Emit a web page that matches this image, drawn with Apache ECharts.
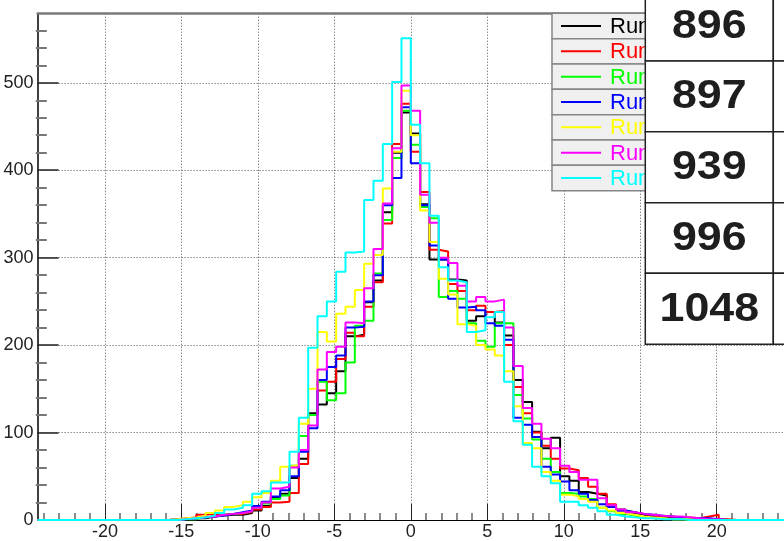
<!DOCTYPE html>
<html>
<head>
<meta charset="utf-8">
<script src="https://cdn.jsdelivr.net/npm/echarts@6/dist/echarts.min.js"></script>
<style>
  html, body { margin: 0; padding: 0; background: #ffffff; }
  #chart { width: 784px; height: 541px; }
</style>
</head>
<body>
<div id="chart"></div>
<script>
// Histogram binning: 80 bins of width 0.61 spanning [-24.4, 24.4]
const binLow = -24.4;
const binWidth = 0.61;

// Bin contents per run (bin 0 .. bin 79)
const runBlack = [0,0,0,0,0,0,0,0,0,0,0,0,0,0,
  0,1,2,2,4,5,6,6,8,11,16,26,30,48,70,122,132,145,170,210,212,249,274,352,420,466,
  442,361,298,298,275,274,228,233,238,226,211,160,135,101,82,94,50,45,32,30,28,15,12,8,6,4,3,3,2,2,1,1,0,0,
  0,0,0,0,0,0];
const runRed = [0,0,0,0,0,0,0,0,0,0,0,0,0,0,
  1,2,3,6,7,6,7,7,9,12,15,20,21,31,64,120,148,158,184,214,210,244,272,339,430,476,
  421,375,309,307,270,262,240,245,238,239,200,152,122,100,85,70,59,57,48,38,30,18,11,9,7,5,4,4,3,3,2,4,6,1,
  0,0,0,0,0,0];
const runGreen = [0,0,0,0,0,0,0,0,0,0,0,0,0,0,
  0,1,1,3,4,6,7,8,10,14,19,24,28,62,96,120,158,137,145,180,222,228,282,343,414,468,
  429,358,345,255,262,253,225,205,198,225,225,143,116,92,70,55,31,30,27,24,14,10,7,5,3,2,2,1,1,0,0,0,0,0,
  0,0,0,0,0,0];
const runBlue = [0,0,0,0,0,0,0,0,0,0,0,0,0,0,
  1,1,2,3,4,5,7,9,11,16,21,27,34,50,78,105,160,175,188,220,221,250,280,360,391,472,
  408,360,314,298,253,243,244,240,225,222,206,117,109,95,61,52,44,34,30,23,18,15,11,9,7,6,5,4,3,2,2,2,1,0,
  0,0,0,0,0,0];
const runYellow = [0,0,0,0,0,0,0,0,0,0,0,0,0,0,
  1,2,3,5,8,11,15,17,21,26,31,45,61,63,110,150,215,204,236,244,263,293,303,379,421,491,
  440,354,318,276,258,224,222,200,195,188,170,130,88,82,55,45,29,27,24,21,14,11,8,6,4,3,2,1,1,1,0,0,0,0,
  0,0,0,0,0,0];
const runMagenta = [0,0,0,0,0,0,0,0,0,0,0,0,0,0,
  0,1,2,3,4,6,7,8,10,14,20,36,38,60,80,108,172,192,198,226,225,265,310,362,425,497,
  468,372,340,300,294,268,250,255,250,252,220,176,128,110,93,82,62,55,46,46,25,17,12,9,7,6,5,4,4,3,2,1,1,0,
  0,0,0,0,0,0];
const runCyan = [0,0,0,0,0,0,0,0,0,0,0,0,0,0,
  0,1,2,3,5,8,12,14,17,30,33,43,43,78,117,197,233,250,284,306,307,366,388,430,501,551,
  452,408,348,289,274,272,215,217,232,238,158,113,86,61,50,42,21,21,17,14,10,6,4,3,2,2,1,1,1,0,0,0,0,0,
  0,0,0,0,0,0];

const runColors = ['#000000', '#ff0000', '#00ff00', '#0000ff', '#ffff00', '#ff00ff', '#00ffff'];
const runValues = [runBlack, runRed, runGreen, runBlue, runYellow, runMagenta, runCyan];

// Axis ticks
const xMajorTicks = [-20, -15, -10, -5, 0, 5, 10, 15, 20];
const xMinorTicks = [-24,-23,-22,-21,-19,-18,-17,-16,-14,-13,-12,-11,-9,-8,-7,-6,-4,-3,-2,-1,
  1,2,3,4,6,7,8,9,11,12,13,14,16,17,18,19,21,22,23,24];
const yMajorTicks = [0, 100, 200, 300, 400, 500];
const yMinorTicks = [20,40,60,80,120,140,160,180,220,240,260,280,320,340,360,380,420,440,460,480,520,540,560];
const yMax = 579;

// Run numbers listed in the side table
const runNumbers = ['896', '897', '939', '996', '1048'];
const legendLabel = 'Run';

// Plot frame geometry (pixels)
const plotLeft = 37.6, plotTop = 13.7, plotWidth = 748.2, plotHeight = 506.3;
const sansFamily = 'Liberation Sans';

// Turn bin contents into step-line points at bin edges
function stepPoints(values) {
  const pts = values.map((v, i) => [binLow + i * binWidth, v]);
  pts.push([binLow + values.length * binWidth, values[values.length - 1]]);
  return pts;
}

const chart = echarts.init(document.getElementById('chart'), null, { renderer: 'canvas' });

const labelFont = { fontSize: 18, color: '#222222', fontFamily: sansFamily };
const dotted = { type: [1, 2], color: '#555555', width: 1 };

// Legend box (partly hidden under the run-number table)
const legendTop = 13.3, legendRowH = 25.34, legendLeft = 552;
const graphics = [];
runColors.forEach((c, i) => {
  const y0 = legendTop + i * legendRowH;
  graphics.push({
    type: 'rect', z: 100,
    shape: { x: legendLeft, y: y0, width: 120, height: legendRowH },
    style: { fill: '#f0f0f0', stroke: '#858585', lineWidth: 1.5 }
  });
  graphics.push({
    type: 'line', z: 101,
    shape: { x1: 561, y1: y0 + legendRowH / 2, x2: 601, y2: y0 + legendRowH / 2 },
    style: { stroke: c, lineWidth: 2 }
  });
  graphics.push({
    type: 'text', z: 101, x: 610, y: y0 + legendRowH / 2 + 1,
    style: { text: legendLabel, fill: c, fontSize: 22, fontFamily: sansFamily,
             textAlign: 'left', textVerticalAlign: 'middle' }
  });
});

// Run-number table
const tableRows = [-10, 61, 131.7, 202.7, 273.3, 344.3];
const colLeft = 645.3, colRight = 773.3;
runNumbers.forEach((num, i) => {
  const y0 = tableRows[i], y1 = tableRows[i + 1];
  graphics.push({
    type: 'rect', z: 200,
    shape: { x: colLeft, y: y0, width: colRight - colLeft, height: y1 - y0 },
    style: { fill: '#ffffff', stroke: '#222222', lineWidth: 1.5 }
  });
  graphics.push({
    type: 'rect', z: 200,
    shape: { x: colRight, y: y0, width: 40, height: y1 - y0 },
    style: { fill: '#ffffff', stroke: '#222222', lineWidth: 1.5 }
  });
  graphics.push({
    type: 'text', z: 201, x: (colLeft + colRight) / 2, y: (y0 + y1) / 2 + 1, scaleX: 1.12,
    style: { text: num, fill: '#1e1e1e', fontSize: 40, fontWeight: 'bold', fontFamily: sansFamily,
             textAlign: 'center', textVerticalAlign: 'middle' }
  });
});

chart.setOption({
  animation: false,
  backgroundColor: '#ffffff',
  grid: { left: plotLeft, top: plotTop, width: plotWidth, height: plotHeight, containLabel: false },
  xAxis: [
    {
      type: 'value', min: binLow, max: -binLow, position: 'bottom',
      axisLine: { show: true, onZero: false, lineStyle: { color: '#000000', width: 1 } },
      axisTick: { show: true, inside: true, length: 16, customValues: xMajorTicks,
                  lineStyle: { color: '#222222', width: 1 } },
      axisLabel: Object.assign({ show: true, customValues: xMajorTicks, margin: 3 }, labelFont),
      splitLine: { show: true, lineStyle: dotted }
    },
    {
      // top frame line
      type: 'value', min: binLow, max: -binLow, position: 'top',
      axisLine: { show: true, onZero: false, lineStyle: { color: '#7a7a7a', width: 2.5 } },
      axisTick: { show: false }, axisLabel: { show: false }, splitLine: { show: false }
    },
    {
      // minor ticks along the bottom axis
      type: 'value', min: binLow, max: -binLow, position: 'top', offset: -plotHeight,
      axisLine: { show: false, onZero: false },
      axisTick: { show: true, inside: false, length: 7, customValues: xMinorTicks,
                  lineStyle: { color: '#666666', width: 1.5 } },
      axisLabel: { show: false }, splitLine: { show: false }
    }
  ],
  yAxis: [
    {
      type: 'value', min: 0, max: yMax, position: 'left',
      axisLine: { show: true, onZero: false, lineStyle: { color: '#000000', width: 1.5 } },
      axisTick: { show: true, inside: true, length: 21, customValues: yMajorTicks,
                  lineStyle: { color: '#222222', width: 1.5 } },
      axisLabel: Object.assign({ show: true, customValues: yMajorTicks, margin: 4 }, labelFont),
      splitLine: { show: true, lineStyle: dotted }
    },
    {
      // minor ticks along the left axis
      type: 'value', min: 0, max: yMax, position: 'right', offset: -plotWidth,
      axisLine: { show: false, onZero: false },
      axisTick: { show: true, inside: false, length: 11, customValues: yMinorTicks,
                  lineStyle: { color: '#777777', width: 2 } },
      axisLabel: { show: false }, splitLine: { show: false }
    }
  ],
  series: runValues.map((vals, i) => ({
    type: 'line',
    step: 'end',
    xAxisIndex: 0,
    yAxisIndex: 0,
    symbol: 'none',
    clip: true,
    lineStyle: { color: runColors[i], width: 2 },
    itemStyle: { color: runColors[i] },
    data: stepPoints(vals),
    z: 10 + i
  })),
  graphic: graphics
});
</script>
</body>
</html>
